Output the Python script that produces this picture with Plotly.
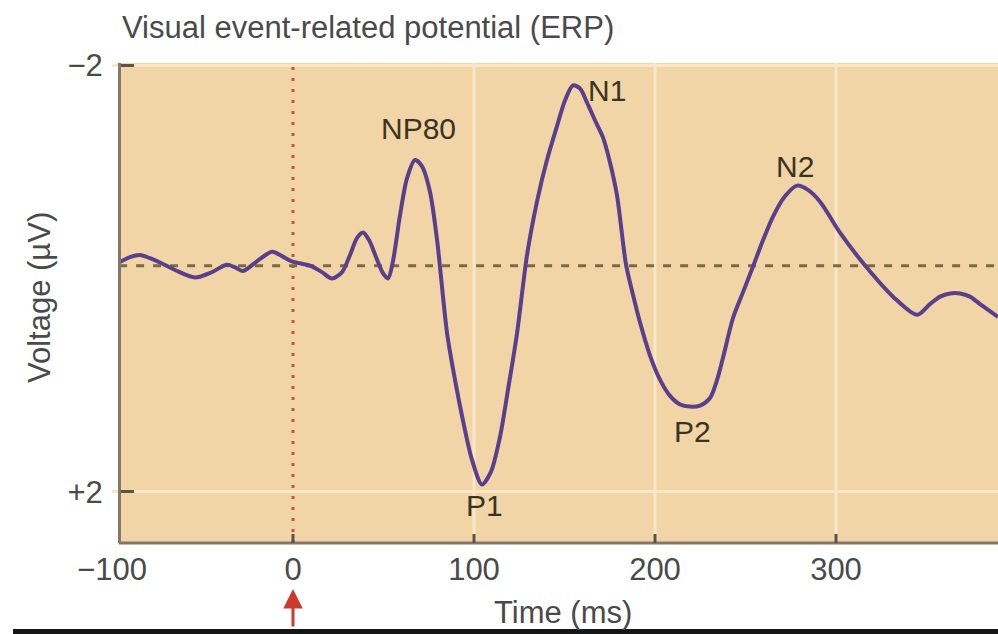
import plotly.graph_objects as go

# Grand-average visual ERP: latency (ms) and amplitude (µV); negative is plotted upward
TIME_MS = [-96.1, -90.1, -84.5, -79.0, -73.5, -65.2, -54.1, -44.8, -36.5, -31.5,
           -27.6, -19.3, -11.6, -6.1, -0.6, 9.4, 16.0, 21.5, 27.1, 31.5,
           35.4, 38.7, 42.0, 45.9, 49.7, 52.5, 55.2, 59.1, 63.0, 67.4,
           71.3, 75.7, 79.6, 85.1, 89.5, 93.9, 98.9, 104.4, 109.4, 114.4,
           118.8, 123.8, 129.3, 134.8, 140.3, 145.9, 150.3, 154.7, 158.6, 162.4,
           166.9, 171.3, 175.1, 179.0, 184.0, 187.8, 191.7, 197.2, 202.8, 208.3,
           213.8, 219.3, 224.9, 230.4, 234.3, 237.6, 243.1, 248.6, 254.1, 259.7,
           265.2, 271.8, 278.5, 284.5, 291.2, 302.2, 317.1, 331.5, 344.8, 351.9,
           357.5, 363.0, 368.5, 374.0, 379.6, 389.5]
VOLTAGE_UV = [-0.15, -0.20, -0.22, -0.19, -0.15, -0.08, -0.01, -0.06, -0.13, -0.10,
              -0.07, -0.17, -0.25, -0.21, -0.16, -0.12, -0.06, 0.00, -0.06, -0.22,
              -0.38, -0.43, -0.36, -0.20, -0.05, 0.00, -0.16, -0.59, -0.94, -1.11,
              -1.05, -0.81, -0.36, 0.51, 0.95, 1.33, 1.70, 1.93, 1.81, 1.48,
              1.04, 0.51, -0.22, -0.72, -1.11, -1.43, -1.67, -1.81, -1.78, -1.65,
              -1.48, -1.32, -1.09, -0.78, -0.13, 0.15, 0.41, 0.72, 0.95, 1.10,
              1.18, 1.20, 1.19, 1.12, 0.95, 0.74, 0.37, 0.13, -0.11, -0.36,
              -0.58, -0.77, -0.87, -0.83, -0.72, -0.43, -0.10, 0.17, 0.34, 0.24,
              0.17, 0.14, 0.14, 0.17, 0.24, 0.36]

BASELINE_UV = -0.12
STIMULUS_MS = 0
PANEL_START_MS = -96.1
X_RANGE = [-100, 389.5]
Y_RANGE = [2.478, -2.019]

X_TICKS = [-100, 0, 100, 200, 300]
X_TICK_TEXT = ["\u2212100", "0", "100", "200", "300"]
GRID_MS = [100, 200, 300]
TICK_MS = [0, 100, 200, 300]
Y_TICKS = [-2, 2]
Y_TICK_TEXT = ["\u22122", "+2"]

# ERP components and their peak latencies
COMPONENTS = ["NP80", "P1", "N1", "P2", "N2"]
COMPONENT_MS = [67.4, 104.4, 154.7, 219.3, 278.5]

# label offsets from each peak, in pixels (x, y)
LABEL_SHIFT = {"NP80": (3, 32), "P1": (3, -21), "N1": (34, -5),
               "P2": (3, -25), "N2": (-2, 19)}

FONT = "Liberation Sans, Arial, Helvetica, sans-serif"
PANEL = "#f1d5a6"
GRID = "#f9e7c7"
AXIS = "#85766a"
TICK = "#5e5346"
TEXT = "#4a4a4a"
LABEL = "#3a3424"
WAVE = "#5a3f8d"

fig = go.Figure()

# stimulus onset marker
fig.add_trace(go.Scatter(
    x=[STIMULUS_MS, STIMULUS_MS], y=Y_RANGE, mode="lines",
    line=dict(color="#c4583c", width=3, dash="3px,8px"), hoverinfo="skip"))

# pre-stimulus baseline
fig.add_trace(go.Scatter(
    x=[PANEL_START_MS, X_RANGE[1]], y=[BASELINE_UV, BASELINE_UV], mode="lines",
    line=dict(color="#7b6b45", width=3, dash="8px,9px"), hoverinfo="skip"))

# ERP waveform
fig.add_trace(go.Scatter(
    x=TIME_MS, y=VOLTAGE_UV, mode="lines",
    line=dict(color=WAVE, width=4, shape="spline", smoothing=0.8),
    hoverinfo="skip"))

shapes = [
    dict(type="rect", xref="x", yref="paper", x0=PANEL_START_MS, x1=X_RANGE[1],
         y0=0, y1=1, fillcolor=PANEL, line=dict(width=0), layer="below"),
    dict(type="line", xref="x", yref="paper", x0=PANEL_START_MS, x1=X_RANGE[1],
         y0=0, y1=0, line=dict(color=AXIS, width=3), layer="above"),
    dict(type="line", xref="paper", yref="paper", x0=-0.1117, x1=1.0,
         y0=-0.1844, y1=-0.1844, line=dict(color="#151515", width=5)),
]
# grid lines and inward ticks along the time axis
for t in GRID_MS:
    shapes.append(dict(type="line", xref="x", yref="paper", x0=t, x1=t, y0=0, y1=1,
                       line=dict(color=GRID, width=3), layer="below"))
for t in TICK_MS:
    shapes.append(dict(type="line", xref="x", yref="paper", x0=t, x1=t,
                       y0=0, y1=9 / 480, line=dict(color=TICK, width=3),
                       layer="above"))

annotations = []
for name, t in zip(COMPONENTS, COMPONENT_MS):
    i = min(range(len(TIME_MS)), key=lambda k: abs(TIME_MS[k] - t))
    dx, dy = LABEL_SHIFT[name]
    annotations.append(dict(
        x=TIME_MS[i], y=VOLTAGE_UV[i], xref="x", yref="y", text=name,
        showarrow=False, xshift=dx, yshift=dy, xanchor="center", yanchor="middle",
        font=dict(family=FONT, size=30, color=LABEL)))

annotations += [
    dict(text="Visual event-related potential (ERP)", xref="paper", yref="paper",
         x=0.009, y=1.073, xanchor="left", yanchor="middle", showarrow=False,
         font=dict(family=FONT, size=31, color=TEXT)),
    dict(text="Voltage (\u00b5V)", xref="paper", yref="paper", x=-0.0824, y=0.5125,
         textangle=-90, xanchor="center", yanchor="middle", showarrow=False,
         font=dict(family=FONT, size=31, color=TEXT)),
    dict(text="Time (ms)", xref="paper", yref="paper", x=0.509, y=-0.144,
         xanchor="center", yanchor="middle", showarrow=False,
         font=dict(family=FONT, size=31, color=TEXT)),
    dict(text="", xref="x", yref="paper", x=STIMULUS_MS, y=-0.096,
         ax=0, ay=39, showarrow=True, arrowhead=2, arrowsize=1.3,
         arrowwidth=3, arrowcolor="#cc3a2b", standoff=0),
]

fig.update_layout(
    width=998, height=634,
    margin=dict(l=112, r=0, t=63, b=91),
    paper_bgcolor="white", plot_bgcolor="white",
    showlegend=False,
    font=dict(family=FONT, size=31, color=TEXT),
    shapes=shapes, annotations=annotations,
    xaxis=dict(range=X_RANGE, tickmode="array", tickvals=X_TICKS,
               ticktext=X_TICK_TEXT, ticks="", showgrid=False, zeroline=False,
               showline=False, ticklabelstandoff=5,
               tickfont=dict(family=FONT, size=31, color=TEXT)),
    yaxis=dict(range=Y_RANGE, tickmode="array", tickvals=Y_TICKS,
               ticktext=Y_TICK_TEXT, anchor="free", position=0.0079,
               showline=True, linecolor=AXIS, linewidth=3,
               ticks="inside", ticklen=13, tickwidth=3, tickcolor=TICK,
               showgrid=True, gridcolor=GRID, gridwidth=3, zeroline=False,
               ticklabelstandoff=9,
               tickfont=dict(family=FONT, size=31, color=TEXT)),
)

fig.write_html("out.html")
